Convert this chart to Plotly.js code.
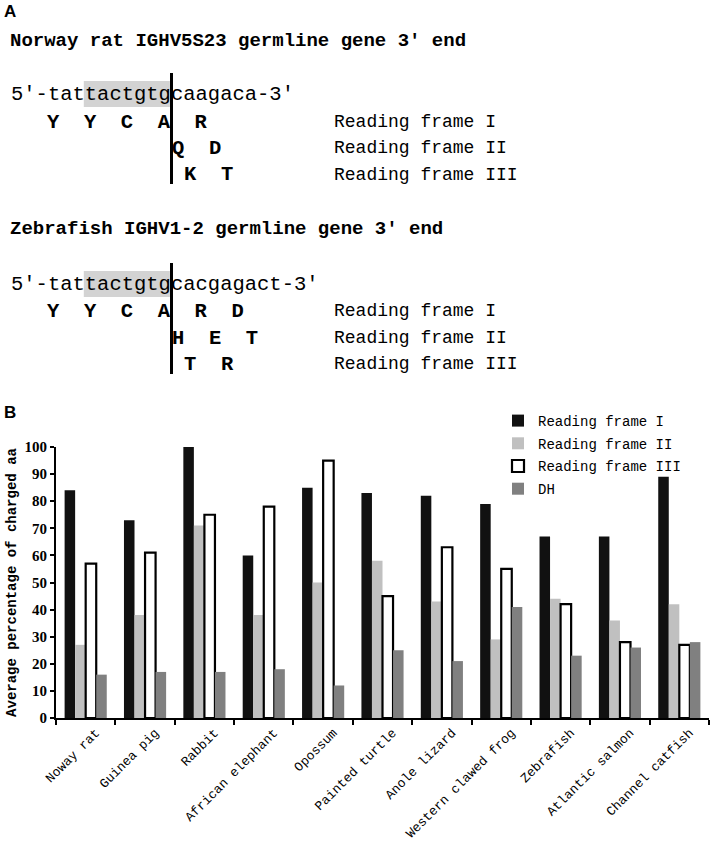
<!DOCTYPE html>
<html>
<head>
<meta charset="utf-8">
<script src="https://cdn.plot.ly/plotly-3.0.1.min.js"></script>
<style>html,body{margin:0;padding:0;background:#fff;}#chart{width:714px;height:849px;}</style>
</head>
<body>
<div id="chart"></div>
<script>
// ---- data ----
const categories = ['Noway rat','Guinea pig','Rabbit','African elephant','Opossum','Painted turtle','Anole lizard','Western clawed frog','Zebrafish','Atlantic salmon','Channel catfish'];
const frameI   = [84, 73, 100, 60, 85, 83, 82, 79, 67, 67, 89];
const frameII  = [27, 38, 71, 38, 50, 58, 43, 29, 44, 36, 42];
const frameIII = [57, 61, 75, 78, 95, 45, 63, 55, 42, 28, 27];
const dh       = [16, 17, 17, 18, 12, 25, 21, 41, 23, 26, 28];
const seriesNames = ['Reading frame I', 'Reading frame II', 'Reading frame III', 'DH'];
const yTicks = [0,10,20,30,40,50,60,70,80,90,100];

// panel A texts
const ratTitle = 'Norway rat IGHV5S23 germline gene 3\u2032 end';
const ratSeq = '5\u2032-tattactgtgcaagaca-3\u2032';
const ratRows = [['Y','Y','C','A','R'], ['Q','D'], ['K','T']];
const fishTitle = 'Zebrafish IGHV1-2 germline gene 3\u2032 end';
const fishSeq = '5\u2032-tattactgtgcacgagact-3\u2032';
const fishRows = [['Y','Y','C','A','R','D'], ['H','E','T'], ['T','R']];
const frameLabels = ['Reading frame I', 'Reading frame II', 'Reading frame III'];

// ---- geometry helpers (pixels -> paper) ----
const W = 714, H = 849;
const M = {l: 56, r: 5, t: 447, b: 849 - 718};
const PW = W - M.l - M.r, PH = H - M.t - M.b;
const px = x => (x - M.l) / PW;
const py = y => (H - M.b - y) / PH;

const mono = 'Liberation Mono, Courier New, monospace';
const NB = '\u00a0';

const annotations = [];
const shapes = [];
function txt(x, y, text, size, bold, xanchor) {
  annotations.push({
    xref: 'paper', yref: 'paper', x: px(x), y: py(y), text: bold ? '<b>' + text + '</b>' : text,
    showarrow: false, xanchor: xanchor || 'left', yanchor: 'middle',
    font: {family: mono, size: size, color: '#000'}, borderpad: 0
  });
}

const seqSize = 20.5, cw = seqSize * 0.6, seqX = 10;
function block(title, seq, rows, yTitle, ySeq, yRows, lineTop, lineBot) {
  txt(9, yTitle, title, 19, true);
  // highlight behind 'tactgtg' (characters 6..12)
  shapes.push({type: 'rect', xref: 'paper', yref: 'paper', layer: 'below',
    x0: px(seqX + 6 * cw), x1: px(seqX + 13 * cw), y0: py(ySeq - 13), y1: py(ySeq + 13),
    fillcolor: '#d3d3d3', line: {width: 0}});
  txt(seqX, ySeq, seq, seqSize, false);
  const starts = [46, 171, 183];
  rows.forEach((r, i) => {
    txt(starts[i], yRows[i], r.join(NB + NB), seqSize, true);
    txt(333, yRows[i], frameLabels[i], 18, false);
  });
  shapes.push({type: 'line', xref: 'paper', yref: 'paper',
    x0: px(171.5), x1: px(171.5), y0: py(lineTop), y1: py(lineBot), line: {color: '#000', width: 3}});
}
block(ratTitle, ratSeq, ratRows, 41, 94, [122, 148, 175], 73, 184);
block(fishTitle, fishSeq, fishRows, 229, 284, [311, 338, 364], 263, 374);

annotations.push({xref: 'paper', yref: 'paper', x: px(2), y: py(11), text: '<b>A</b>', showarrow: false,
  xanchor: 'left', yanchor: 'middle', font: {family: 'Liberation Sans, Arial', size: 17, color: '#000'}});
annotations.push({xref: 'paper', yref: 'paper', x: px(2), y: py(412), text: '<b>B</b>', showarrow: false,
  xanchor: 'left', yanchor: 'middle', font: {family: 'Liberation Sans, Arial', size: 17, color: '#000'}});

// ---- traces ----
const fills = ['#111111', '#c0c0c0', '#ffffff', '#808080'];
const values = [frameI, frameII, frameIII, dh];
const traces = values.map((v, i) => ({
  type: 'bar', x: categories, y: v, name: seriesNames[i], legendgroup: 'g' + i,
  marker: {color: fills[i], line: {color: '#000', width: i === 2 ? 2.2 : 0}},
  hoverinfo: 'x+y+name'
}));

const layout = {
  width: W, height: H, margin: M, paper_bgcolor: '#fff', plot_bgcolor: '#fff',
  barmode: 'group', bargap: 0.29, bargroupgap: 0,
  showlegend: true,
  legend: {x: px(498), y: py(405), xanchor: 'left', yanchor: 'top', traceorder: 'grouped',
    tracegroupgap: 1.5, font: {family: mono, size: 14, color: '#000'}, bgcolor: 'rgba(0,0,0,0)'},
  xaxis: {type: 'category', tickson: 'boundaries', ticks: 'outside', ticklen: 5, tickwidth: 2, tickcolor: '#000',
    showline: true, linecolor: '#000', linewidth: 2, tickangle: -45, ticklabelshift: 10,
    tickfont: {family: mono, size: 13, color: '#000'}, showgrid: false, zeroline: false, fixedrange: true},
  yaxis: {range: [0, 100], tickvals: yTicks, ticks: 'outside', ticklen: 4, tickwidth: 2, tickcolor: '#000',
    showline: true, linecolor: '#000', linewidth: 2, showgrid: false, zeroline: false,
    tickfont: {family: 'Liberation Serif, Times New Roman, serif', size: 15, color: '#000', weight: 'bold'},
    title: {text: '<b>Average percentage of charged aa</b>', font: {family: mono, size: 14, color: '#000'}, standoff: 5},
    fixedrange: true},
  annotations: annotations, shapes: shapes
};

Plotly.newPlot('chart', traces, layout, {displayModeBar: false, staticPlot: true});
</script>
</body>
</html>
